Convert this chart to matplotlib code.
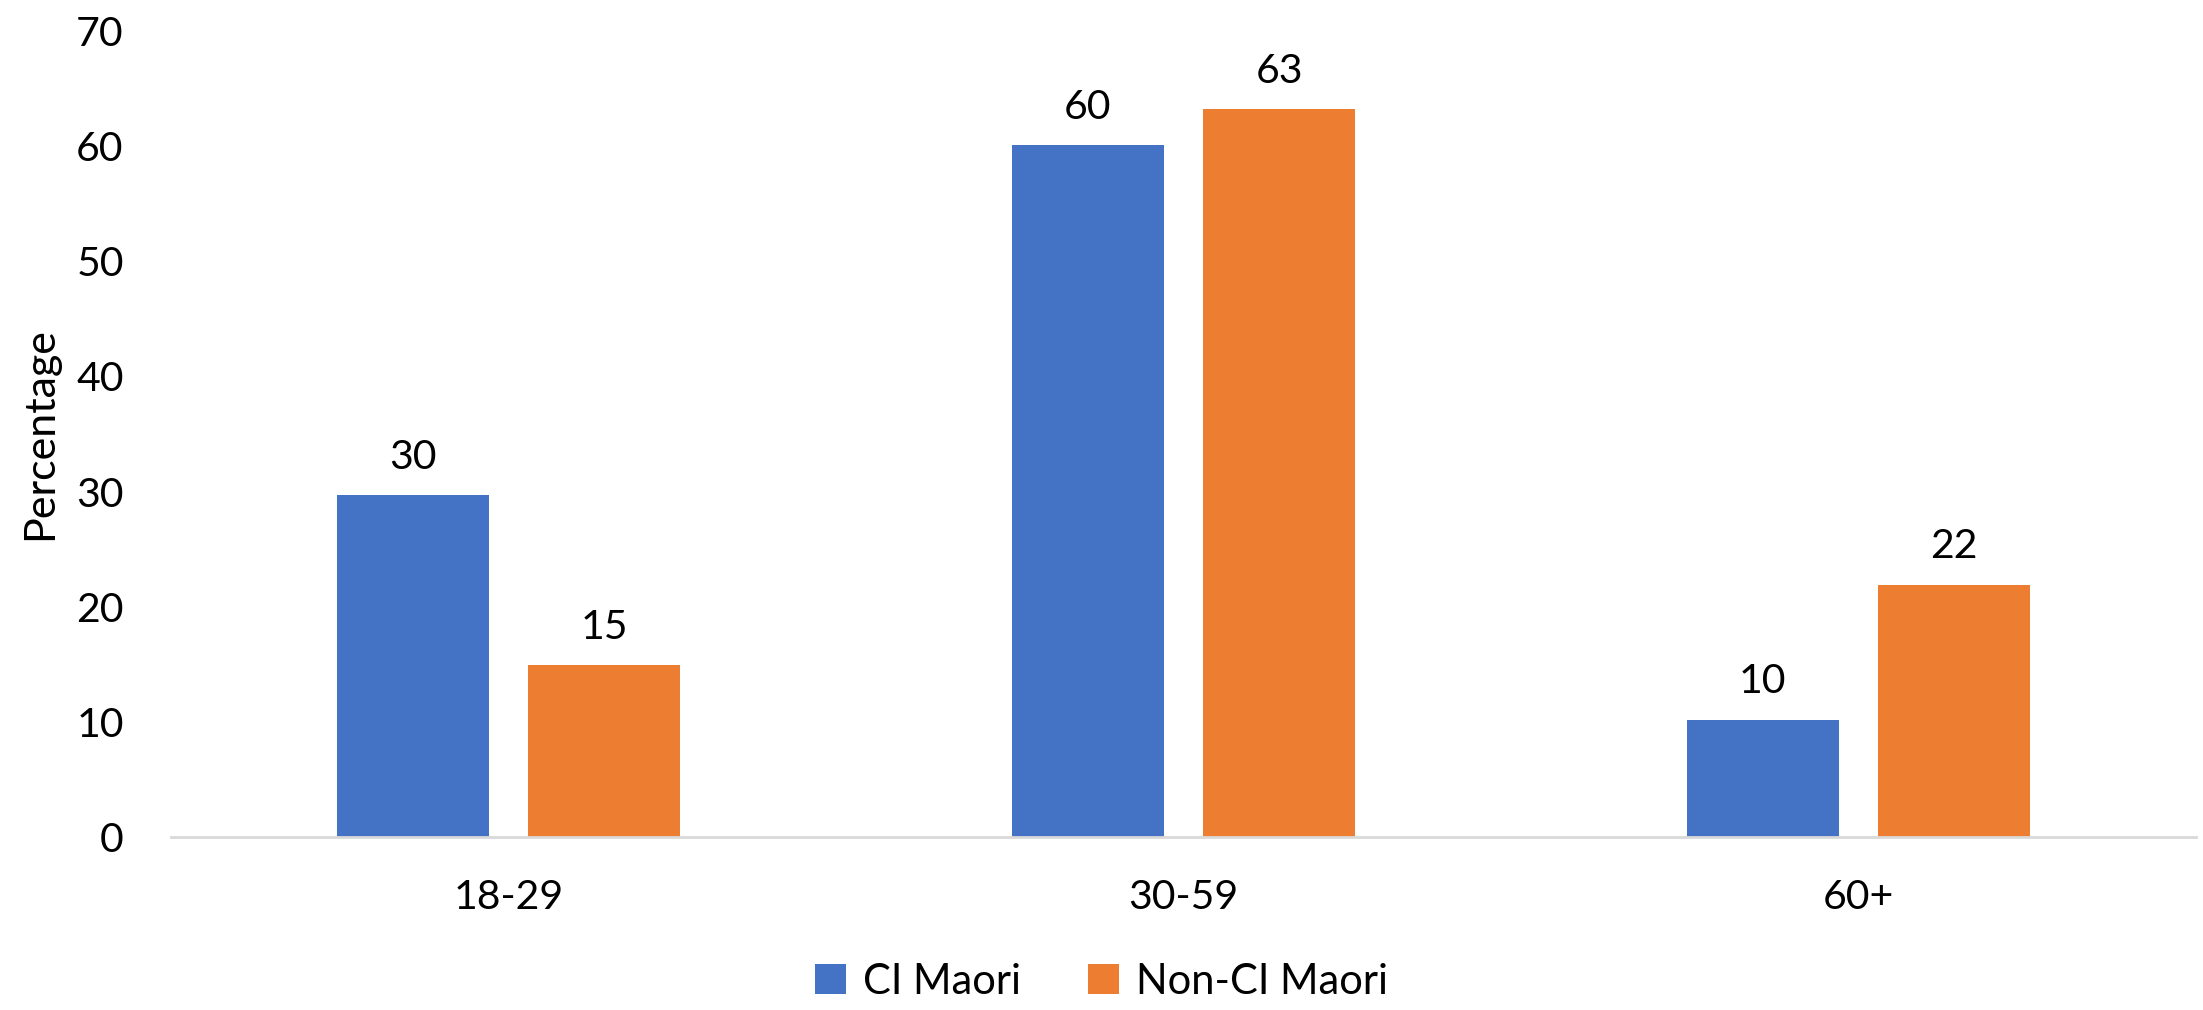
import matplotlib
matplotlib.use("Agg")
import matplotlib.pyplot as plt
import numpy as np

plt.rcParams['font.family'] = ['Lato', 'DejaVu Sans']

age_groups = ["18-29", "30-59", "60+"]
ci_maori = [29.7, 60.1, 10.2]
non_ci_maori = [14.9, 63.2, 21.9]
yticks = [0, 10, 20, 30, 40, 50, 60, 70]

blue = "#4472C4"
orange = "#ED7D31"

fig = plt.figure(figsize=(22.03, 10.10), dpi=100)
ax = fig.add_axes([0.0776, 0.1713, 0.9192, 0.798])

x = np.arange(len(age_groups))
w = 0.225
off = 0.142
b1 = ax.bar(x - off, ci_maori, w, color=blue, label="CI Maori")
b2 = ax.bar(x + off, non_ci_maori, w, color=orange, label="Non-CI Maori")

for bars in (b1, b2):
    ax.bar_label(bars, labels=[f"{v:.0f}" for v in bars.datavalues],
                 padding=14, fontsize=29.5)

ax.set_xlim(-0.5, 2.5)
ax.set_ylim(0, 70)
ax.set_yticks(yticks)
ax.set_xticks(x)
ax.set_xticklabels(age_groups)
ax.tick_params(axis="y", length=0, pad=34, labelsize=29.5)
ax.tick_params(axis="x", length=0, pad=30, labelsize=29.5)

for s in ["top", "right", "left"]:
    ax.spines[s].set_visible(False)
ax.spines["bottom"].set_color("#D9D9D9")
ax.spines["bottom"].set_linewidth(2)

ax.set_ylabel("Percentage", fontsize=31, labelpad=12)

fig.legend(handles=[b1, b2], loc="center", bbox_to_anchor=(0.5, 0.028),
           ncol=2, frameon=False, fontsize=30, handlelength=0.75,
           handleheight=0.75, handletextpad=0.4, columnspacing=1.6)

fig.savefig("out.png", dpi=100)
